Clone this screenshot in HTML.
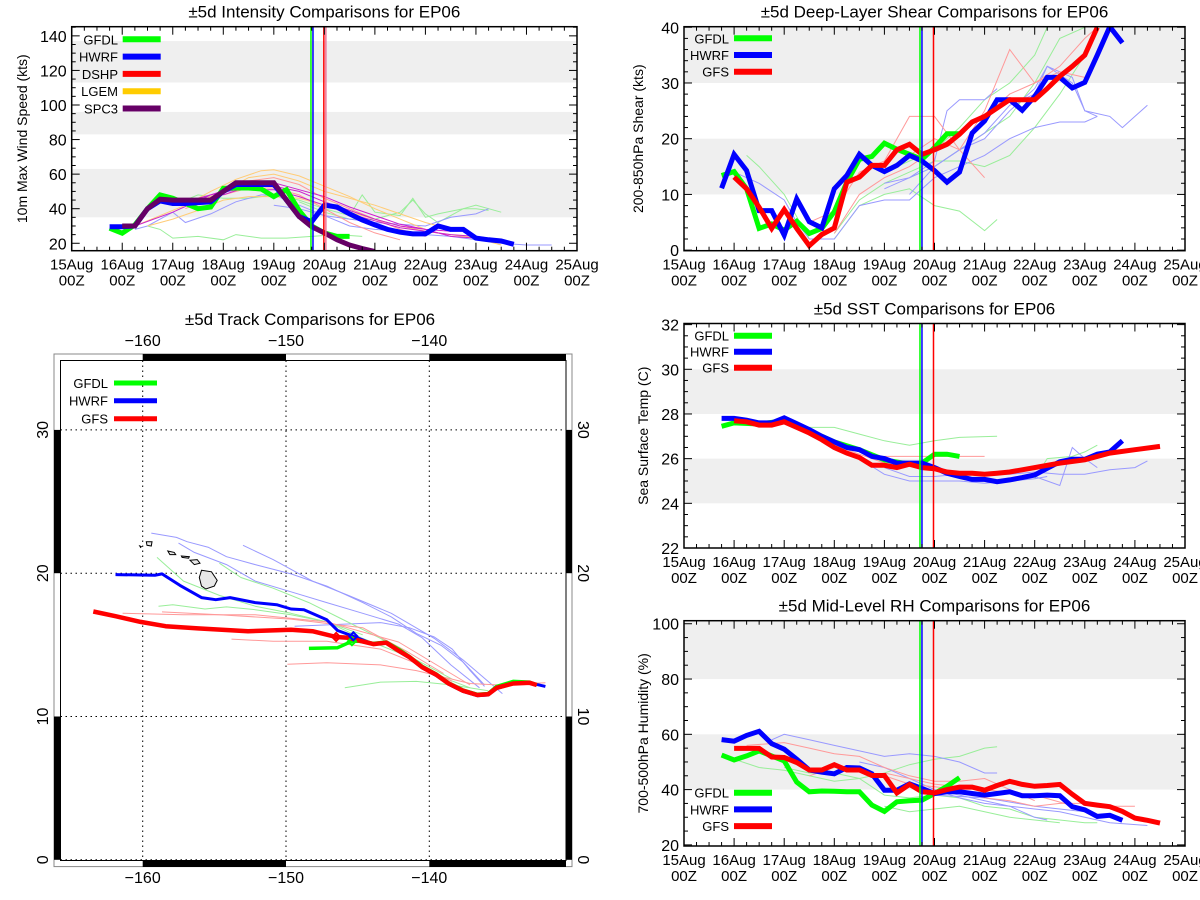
<!DOCTYPE html>
<html><head><meta charset="utf-8"><style>
body{margin:0;background:#fff;}
svg{display:block;font-family:"Liberation Sans",sans-serif;}
</style></head><body>
<svg id="s" width="1200" height="900" viewBox="0 0 1200 900" xmlns="http://www.w3.org/2000/svg"></svg>
<script>
// ---------- DATA ----------
const dayTickLabels = ["15Aug","16Aug","17Aug","18Aug","19Aug","20Aug","21Aug","22Aug","23Aug","24Aug","25Aug"];
// Intensity (day-of-Aug, kts)
const intGFDL = [[15.75,28.7],[16,25.8],[16.25,30.6],[16.5,40],[16.75,48],[17,46],[17.25,43],[17.5,40],[17.75,41],[18,51.8],[18.25,52],[18.5,52],[18.75,51.4],[19,47],[19.25,51],[19.5,39],[19.75,30],[20,26],[20.25,24],[20.5,24]];
const intHWRF = [[15.75,29.6],[16,29.6],[16.25,30],[16.5,40],[16.75,44.5],[17,43],[17.25,43],[17.75,44],[18,50],[18.25,54],[19,54],[19.25,45],[19.5,35.5],[19.75,32.5],[20,42],[20.25,41],[20.5,37],[20.75,33.5],[21,30.6],[21.25,28],[21.5,26.4],[21.75,25.4],[22,25.4],[22.25,30],[22.5,28],[22.75,28],[23,23],[23.25,22],[23.5,21.3],[23.75,19.4]];
const intSPC3 = [[16,30],[16.25,30],[16.5,40],[16.75,45.5],[17,45],[17.25,45],[17.75,45],[18,50],[18.25,55],[19,55],[19.25,45],[19.5,35.5],[19.75,29.6],[20,26],[20.25,22],[20.5,19],[20.75,17],[21,15.2]];
const intThinOrange = [
 [[16.25,30],[16.75,36],[17.25,42],[17.75,50],[18.25,57],[18.75,62],[19,62.5],[19.5,59],[20,53],[20.5,47],[21,40],[21.5,34],[22,28]],
 [[16.5,30],[17,34],[17.5,39],[18,45],[18.5,47],[19,47],[19.5,46],[20,42],[20.5,38],[21,34],[21.5,30],[22,27],[22.5,25],[23,23],[23.5,19]],
 [[17.5,44],[18,50],[18.5,58],[19,60],[19.5,56],[20,50],[21,42],[22,32],[22.5,28]]];
const intThinRed = [
 [[17.25,40],[18,50],[18.5,56],[19,58],[19.5,54],[20,46],[20.5,40],[21,34],[21.5,28],[22,24]],
 [[18,48],[18.5,52],[19,52],[19.5,48],[20,40],[20.5,32],[21,26],[21.5,22]]];
const intThinMagenta = [
 [[16.25,30],[17,38],[17.75,48],[18.5,55],[19,55],[19.5,51],[20,47],[20.5,41],[21,36],[21.5,31],[22,28],[22.5,24],[23,23]],
 [[17,42],[17.75,48],[18.25,51],[19,51],[19.5,47],[20,42],[20.5,37],[21,33],[21.5,29],[22,27],[22.5,25],[23,24],[23.5,22]],
 [[18,48],[18.5,53],[19,53],[19.5,50],[20,44],[20.5,39],[21,34],[21.5,30],[22,28],[22.5,27]]];
const intThinGreen = [
 [[16.5,30],[16.75,28],[17,23],[17.5,24],[18,22],[18.25,25],[18.75,23],[19.25,23],[19.75,24],[20.25,25],[20.75,24]],
 [[17,42],[17.5,48],[18,46],[18.5,46],[19,48],[19.5,45],[20,40],[20.5,36],[20.75,48],[21,38],[21.5,36],[21.75,46],[22,35],[22.25,37],[22.75,40],[23,40],[23.25,39]],
 [[19.5,44],[20,38],[20.5,34],[21,34],[21.5,38],[21.75,45],[22,37],[22.25,32],[22.75,40],[23,42],[23.5,38]]];
const intThinBlue = [
 [[16.25,28],[16.5,30],[17,38],[17.25,32],[17.75,37],[18.25,44],[18.75,48],[19,48],[19.5,42],[20,36],[20.5,30],[21,28],[21.5,27],[22,25],[22.5,24],[23,22],[23.5,20],[24,19],[24.5,19]],
 [[19,42],[19.5,40],[20,36],[20.5,34],[21,32],[22,30],[22.5,35],[23,37],[23.25,40]]];
// Shear
const shrGFDL = [[15.75,13.4],[16,14.1],[16.25,11],[16.5,3.9],[16.75,4.7],[17,3.6],[17.25,5.2],[17.5,3],[17.75,3.9],[18,6.9],[18.25,12.2],[18.5,16.3],[18.75,16.8],[19,19.2],[19.25,18.1],[19.5,17.2],[19.75,16.3],[20,18.4],[20.25,20.9],[20.5,20.9]];
const shrHWRF = [[15.75,11.1],[16,17.2],[16.25,14.3],[16.5,7.1],[16.75,7.1],[17,2.7],[17.25,9.2],[17.5,5.1],[17.75,4],[18,11],[18.25,13.4],[18.5,17.2],[18.75,15.2],[19,14.1],[19.25,15.2],[19.5,17],[19.75,16],[20,14.3],[20.25,12.2],[20.5,14],[20.75,21],[21,23.2],[21.25,27],[21.5,27],[21.75,25.1],[22,27.6],[22.25,31],[22.5,31],[22.75,29.1],[23,30.1],[23.25,35],[23.5,40.1],[23.75,37.2]];
const shrGFS = [[16,13.1],[16.25,11],[16.5,7.7],[16.75,3.9],[17,7.3],[17.25,3.9],[17.5,0.8],[17.75,2.8],[18,4],[18.25,12.2],[18.5,13.1],[18.75,15.2],[19,15.2],[19.25,18],[19.5,19],[19.75,17.2],[20,18],[20.25,19],[20.5,20.8],[20.75,23],[21,24],[21.25,25.5],[21.5,27],[22,27],[22.25,29],[22.5,31.2],[22.75,33],[23,35],[23.25,40]];
const shrThinGreen = [
 [[16.25,17],[16.5,15],[17,10],[17.5,2],[18,2],[18.5,8],[19,10],[19.5,11],[20,8],[20.5,7],[21,3.5],[21.25,5.5]],
 [[19.5,13],[20,15],[20.5,18],[21,21],[21.5,24],[22,30],[22.5,38],[23,40]],
 [[18,3],[18.5,9],[19,12],[19.5,14],[20,16],[20.5,16],[21,15],[21.5,17],[22,22],[22.5,28],[23,35],[23.25,40]],
 [[19,14],[19.5,16],[20,18],[20.5,22],[21,27],[21.5,30],[22,35],[22.25,40]]];
const shrThinRed = [
 [[17.5,5],[18,7],[18.5,14],[19,16],[19.5,24],[20,24],[20.5,18],[21,13]],
 [[19.5,17],[20,20],[20.5,18],[21,25],[21.5,36],[22,30],[22.5,32],[23,31]],
 [[18,3],[18.5,10],[19,13],[19.5,15],[20,18],[20.5,21],[21,24],[21.5,28],[22,30],[22.5,33],[23,38],[23.25,40]]];
const shrThinBlue = [
 [[16,14],[16.5,12],[17,9],[17.25,5],[17.5,2],[18,2],[18.5,8],[19,9],[19.5,9],[20,13],[20.5,15],[21,17],[21.5,20],[22,22],[22.5,23],[23,23],[23.25,24]],
 [[19.5,10],[20,15],[20.5,18],[21,20],[21.5,25],[22,29],[22.25,33],[22.75,30],[23,25],[23.5,24],[23.75,22],[24,24],[24.25,26]],
 [[19,11],[19.5,13],[20,16],[20.25,25],[20.5,27],[21,27],[21.25,29]],
 [[19,12],[19.5,13],[20,15],[20.5,18],[21,21],[21.5,26],[22,28],[22.25,33],[22.75,31],[23,25],[23.25,24]]];
// SST
const sstGFDL = [[15.75,27.45],[16,27.6],[16.5,27.55],[17,27.7],[17.5,27.25],[18,26.75],[18.5,26.4],[19,25.95],[19.5,25.75],[19.75,25.8],[20,26.2],[20.25,26.2],[20.5,26.1]];
const sstHWRF = [[15.75,27.8],[16,27.8],[16.25,27.72],[16.5,27.6],[16.75,27.6],[17,27.83],[17.25,27.57],[17.5,27.3],[17.75,27],[18,26.75],[18.25,26.5],[18.5,26.4],[18.75,26.1],[19,26],[19.25,25.8],[19.5,25.8],[19.75,25.8],[20,25.6],[20.25,25.35],[20.5,25.2],[20.75,25.07],[21,25.07],[21.25,24.97],[21.5,25.05],[21.75,25.15],[22,25.27],[22.25,25.57],[22.5,25.86],[22.75,25.97],[23,25.97],[23.25,26.2],[23.5,26.3],[23.75,26.8]];
const sstGFS = [[16,27.7],[16.25,27.65],[16.5,27.5],[16.75,27.5],[17,27.65],[17.25,27.4],[17.5,27.15],[17.75,26.85],[18,26.5],[18.25,26.25],[18.5,26.05],[18.75,25.7],[19,25.7],[19.25,25.6],[19.5,25.75],[19.75,25.6],[20,25.55],[20.25,25.4],[20.5,25.35],[20.75,25.35],[21,25.3],[21.25,25.35],[21.5,25.4],[21.75,25.5],[22,25.6],[22.25,25.7],[22.5,25.8],[23,25.95],[23.5,26.25],[24,26.4],[24.5,26.55]];
const sstThinGreen = [
 [[17.25,27.4],[18,27.4],[18.5,27.1],[19,26.8],[19.5,26.6],[20,26.8],[20.5,26.95],[21.25,27]],
 [[22,25.1],[22.25,26],[22.75,26.1],[23,26.3],[23.25,26.6]]];
const sstThinRed = [[[19,26.1],[20,26.1],[21,26.1]],[[17,27.6],[18,26.6],[19,25.8],[20,25.5],[21,25.3],[22,25.5],[23,26]]];
const sstThinBlue = [
 [[18.5,26],[19,25.3],[19.5,25],[20,25],[20.5,25],[21,24.9],[21.5,25],[22,25.1],[22.25,25.2]],
 [[19,25.6],[19.5,25.2],[20,25.2],[20.5,25.3],[21,25.3],[21.5,25.3],[22,25.4],[22.5,25.3],[23,25.3],[23.5,25.5],[24,25.6],[24.25,25.9]],
 [[22,25.2],[22.5,24.8],[22.75,26.5],[23,26],[23.25,25.6]]];
// RH
const rhGFDL = [[15.75,52.5],[16,50.7],[16.25,52.2],[16.5,54],[16.75,52.2],[17,50.4],[17.25,42.7],[17.5,39.2],[17.75,39.5],[18,39.4],[18.25,39.2],[18.5,39.2],[18.75,34.4],[19,32.1],[19.25,35.6],[19.5,36],[19.75,36.2],[20,38.6],[20.25,41.2],[20.5,44.3]];
const rhHWRF = [[15.75,58.1],[16,57.5],[16.25,59.6],[16.5,61.1],[16.75,56.6],[17,54.6],[17.25,51],[17.5,47.1],[17.75,46.3],[18,45.7],[18.25,48],[18.5,47.8],[18.75,45.7],[19,39.8],[19.25,39.8],[19.5,42.1],[19.75,40.4],[20,38.6],[20.25,39.2],[20.5,39.2],[20.75,38.6],[21,38],[21.25,38.6],[21.5,39.2],[21.75,37.8],[22,37.8],[22.25,38],[22.5,37.8],[22.75,33.8],[23,32.7],[23.25,30.3],[23.5,30.7],[23.75,28.9]];
const rhGFS = [[16,54.9],[16.5,54.9],[16.75,51.8],[17,51.6],[17.25,49.8],[17.5,47.1],[17.75,47.1],[18,49],[18.25,47.1],[18.5,47.1],[18.75,45.1],[19,45.1],[19.25,38.8],[19.5,41.9],[19.75,39.2],[20,38.8],[20.25,40],[20.5,40.9],[20.75,40.9],[21,39.8],[21.25,41.5],[21.5,43],[21.75,41.9],[22,41.2],[22.25,41.5],[22.5,41.9],[22.75,38.3],[23,35],[23.25,34.4],[23.5,33.8],[23.75,32.1],[24,29.7],[24.25,28.9],[24.5,27.9]];
const rhThinGreen = [
 [[16,51],[16.5,48],[17,47],[17.5,45],[18,43],[18.5,44],[19,46],[19.5,49],[20,51],[20.5,52],[21,55],[21.25,55.5]],
 [[17,48],[17.5,46],[18,46],[18.5,44],[19,38],[19.5,37],[20,38],[20.5,37],[21,34],[21.5,33],[22,30],[22.5,29],[23,28],[23.25,28]],
 [[19,34],[19.5,32],[20,33],[20.5,34],[21,32],[21.5,30],[22,29],[22.5,28]]];
const rhThinRed = [
 [[16.25,56],[17,57],[17.5,55],[18,53],[18.5,52],[19,48],[19.5,45],[20,43],[20.5,43],[21,44],[21.5,40],[22,36]],
 [[17.5,45],[18,48],[18.5,47],[19,45],[19.5,42],[20,41],[20.5,40],[21,37],[21.5,36],[22,34],[22.5,35],[23,35],[23.5,34],[24,34]],
 [[19,46],[19.5,44],[20,42],[21,40],[22,38],[23,33]]];
const rhThinBlue = [
 [[16.75,58],[17,60],[17.5,58],[18,56],[18.5,54],[19,52],[19.5,53],[20,52],[20.5,50],[21,46],[21.25,46]],
 [[18.5,50],[19,48],[19.5,44],[20,40],[20.5,38],[21,36],[21.5,34],[22,30],[22.25,29]],
 [[20,40],[20.5,37],[21,35],[21.5,34],[22,33],[22.5,32],[23,30],[23.5,28],[24.25,27]],
 [[20,38],[21,37],[22,34],[23,32],[23.25,31]]];
// Track (lon, lat)
const trkGFS = [[-163.45,17.33],[-161.9,17],[-160.15,16.6],[-158.4,16.3],[-156.15,16.15],[-152.65,15.95],[-149.65,16.05],[-148.15,15.95],[-146.5,15.55],[-145.65,15.5],[-144.9,15.3],[-143.9,15.05],[-143,15.15],[-142.15,14.6],[-141.4,14.15],[-140.5,13.45],[-139.5,12.9],[-138.65,12.3],[-137.65,11.8],[-136.65,11.5],[-135.9,11.55],[-135.3,12],[-134.15,12.3],[-133,12.35],[-132.5,12.2]];
const trkHWRF = [[-161.9,19.9],[-159.15,19.85],[-158.65,19.95],[-157.4,19.15],[-155.9,18.3],[-154.9,18.15],[-153.9,18.3],[-152.15,17.95],[-150.65,17.8],[-149.65,17.5],[-148.75,17.45],[-147.15,16.75],[-146.4,16],[-145.3,15.6],[-143.9,15.05],[-143,15.1],[-142.15,14.55],[-141.4,14.1],[-140.5,13.4],[-139.5,12.85],[-138.65,12.25],[-137.65,11.75],[-136.65,11.45],[-135.9,11.5],[-135.3,11.95],[-134.15,12.3],[-133,12.35],[-131.9,12.1]];
const trkGFDL = [[-148.4,14.75],[-146.4,14.8],[-145.4,15.25],[-144.9,15.25],[-143.9,15.1],[-143,15.2],[-142.15,14.7],[-141.4,14.2],[-140.5,13.5],[-139.5,12.95],[-138.65,12.35],[-137.65,11.85],[-136.65,11.55],[-135.9,11.6],[-135.3,12.1],[-134.15,12.45],[-133,12.4],[-132.5,12.2]];
const trkThinBlue = [
 [[-159.4,22.8],[-157.65,22.5],[-156.9,22.2],[-155.4,21.8],[-154.15,21.15],[-152.15,20.6],[-149.65,19.95],[-147.15,19.1],[-144.65,17.95],[-142.65,16.95],[-140.9,15.8],[-139.15,14.95],[-137.65,13.8],[-136.15,12.2]],
 [[-153,21.95],[-150.9,20.95],[-148.15,19.45],[-145.65,18.45],[-142.65,17.2],[-139.65,15.45],[-137.65,13.95],[-134.9,11.6]],
 [[-157.5,22.1],[-156.4,21.45],[-154.15,20.6],[-152.15,19.45],[-149.65,18.7],[-147.15,17.95],[-144.65,17.2],[-142.15,16.45],[-140.5,15.5],[-138.5,13.6],[-136.5,12]],
 [[-149.4,16.3],[-145.9,16.45],[-143.4,16.55],[-141.4,16.2],[-139.65,15.55],[-138.4,14.7],[-137.15,13.2],[-136.15,12.1]]];
const trkThinGreen = [
 [[-159,21.1],[-157.15,19.45],[-154.65,18.45],[-152.15,17.7],[-149.65,17.2],[-147.15,16.6],[-144.65,15.45],[-142.15,14.45],[-139.65,12.95],[-137.15,12]],
 [[-158.9,17.7],[-157.9,17.8],[-155.65,17.5],[-154.15,17.65],[-152.15,17.45],[-149.65,17.1],[-147.15,16.6],[-144.65,15.7]],
 [[-154.65,20.7],[-153.15,19.7],[-150.9,18.95],[-148.4,17.95],[-145.9,16.7],[-143.4,15.45],[-140.9,13.95],[-138.4,12.6]],
 [[-145.9,12],[-143.4,12.4],[-140.9,12.45],[-138.4,12.2],[-135.9,11.8]]];
const trkThinRed = [
 [[-161.4,17.2],[-157.15,17.1],[-152.15,17.1],[-147.15,16.6],[-142.15,15.2],[-139.65,13.7],[-137.15,12.2]],
 [[-153.8,15.4],[-150.9,15.25],[-147.15,15.25],[-143.4,14.7],[-140.9,13.7],[-138.4,12.45]],
 [[-149.9,13.65],[-147.15,13.75],[-143.4,13.6],[-140.9,13.2],[-137.15,12.3],[-135.15,12.2],[-131.9,12.35]],
 [[-158.65,17.3],[-154.65,17.1],[-149.65,16.8],[-144.65,16.2],[-141.5,14.5],[-139,13]]];
const islands = [
 [[-155.9,20.2],[-155.2,20.1],[-154.8,19.5],[-155.0,19.1],[-155.6,18.9],[-155.9,19.1],[-156.05,19.7]],
 [[-156.7,20.9],[-156.2,20.95],[-156.0,20.7],[-156.4,20.6],[-156.6,20.8]],
 [[-157.3,21.2],[-156.75,21.15],[-156.8,21.05],[-157.25,21.1]],
 [[-158.25,21.55],[-157.8,21.45],[-157.7,21.3],[-158.1,21.3]],
 [[-159.75,22.2],[-159.35,22.2],[-159.4,21.9],[-159.7,21.95]],
 [[-160.2,21.9],[-160.1,21.85],[-160.15,21.8]]];
const lonTicks = [-160,-150,-140];
const latTicks = [0,10,20,30];

// ---------- DRAWING ----------
const svg = document.getElementById('s');
const NS = "http://www.w3.org/2000/svg";
function mk(tag, attrs, parent){ const e=document.createElementNS(NS,tag); for(const k in attrs) e.setAttribute(k,attrs[k]); (parent||svg).appendChild(e); return e; }
function txt(x,y,s,size,anchor,parent,rot){ const t=mk('text',{x:x,y:y,'font-size':size,'text-anchor':anchor||'middle',fill:'#000'},parent); if(rot) t.setAttribute('transform',`rotate(${rot} ${x} ${y})`); t.textContent=s; return t; }

function panel(cfg){
  const g = mk('g',{});
  
  
  const X = d => cfg.x0 + (d-15)/10*(cfg.x1-cfg.x0);
  const Y = v => cfg.y1 - (v-cfg.vmin)/(cfg.vmax-cfg.vmin)*(cfg.y1-cfg.y0);
  for(const b of cfg.bands){
    const r = mk('rect',{x:cfg.x0,y:Y(b[1]),width:cfg.x1-cfg.x0,height:Y(b[0])-Y(b[1]),fill:'#efefef'},g);
    
    
  }
  const clip = 'c'+cfg.name;
  const cp = mk('clipPath',{id:clip},g); mk('rect',{x:cfg.x0,y:cfg.y0,width:cfg.x1-cfg.x0,height:cfg.y1-cfg.y0},cp);
  const lg = mk('g',{'clip-path':`url(#${clip})`},g);
  function line(pts,color,w,nm){
    const p = mk('polyline',{points:pts.map(q=>X(q[0]).toFixed(1)+','+Y(q[1]).toFixed(1)).join(' '),fill:'none',stroke:color,'stroke-width':w,'stroke-linejoin':'miter'},lg);
    
    
  }
  for(const s of cfg.thin) for(const pts of s.data) line(pts,s.color,1,s.name);
  for(const s of cfg.thick) line(s.data,s.color,5,s.name);
  for(const v of cfg.vlines){
    const l = mk('line',{x1:X(v[0]),x2:X(v[0]),y1:cfg.y0,y2:cfg.y1,stroke:v[1],'stroke-width':1.5},g);
    
    
  }
  mk('rect',{x:cfg.x0,y:cfg.y0,width:cfg.x1-cfg.x0,height:cfg.y1-cfg.y0,fill:'none',stroke:'#000','stroke-width':1.5},g);
  for(let i=0;i<=40;i++){
    const d=15+i*0.25, x=X(d), L = (i%4===0)?8:4;
    mk('line',{x1:x,x2:x,y1:cfg.y1,y2:cfg.y1-L,stroke:'#000','stroke-width':1},g);
    mk('line',{x1:x,x2:x,y1:cfg.y0,y2:cfg.y0+L,stroke:'#000','stroke-width':1},g);
  }
  dayTickLabels.forEach((s,i)=>{
    const a = txt(X(15+i),cfg.y1+19,s,15,'middle',g);
    
    
    const b = txt(X(15+i),cfg.y1+35,'00Z',15,'middle',g);
    
    
  });
  for(let v=cfg.ymajor0; v<=cfg.vmax+1e-6; v+=cfg.yminor){
    if(v<cfg.vmin-1e-6) continue;
    const y=Y(v); const isMaj = Math.abs(((v-cfg.ymajor0)/cfg.ymajor)-Math.round((v-cfg.ymajor0)/cfg.ymajor))<1e-6;
    const L=isMaj?8:4;
    mk('line',{x1:cfg.x0,x2:cfg.x0+L,y1:y,y2:y,stroke:'#000','stroke-width':1},g);
    mk('line',{x1:cfg.x1,x2:cfg.x1-L,y1:y,y2:y,stroke:'#000','stroke-width':1},g);
    if(isMaj){
      const t=txt(cfg.x0-5,y+6,String(Math.round(v)),16,'end',g);
      
      
    }
  }
  const tt = txt((cfg.x0+cfg.x1)/2, cfg.y0-9, cfg.title, 17,'middle',g);
  
  
  const yt = txt(cfg.ytx,(cfg.y0+cfg.y1)/2,cfg.ytitle,14,'middle',g,-90);
  
  
  cfg.legend.forEach((e,i)=>{
    const y = cfg.ly + i*cfg.lstep;
    const t = txt(cfg.ltx,y+5,e[0],13,'end',g);
    
    
    const l = mk('line',{x1:cfg.llx,x2:cfg.llx+38,y1:y,y2:y,stroke:e[1],'stroke-width':6},g);
    
    
  });
}

const G='#00ff00', B='#0000ff', R='#ff0000', O='#ffcc00', P='#660066';
const lG='#99ee99', lB='#9999ff', lR='#ff9999', lO='#ffcc77', lM='#cc22cc';

panel({name:'intensity-panel',x0:71.7,x1:577,y0:26.7,y1:250.7,vmin:15.7,vmax:145.3,bands:[[35,63],[83,96],[113,137]],
  ymajor0:20,ymajor:20,yminor:5,title:'±5d Intensity Comparisons for EP06',ytitle:'10m Max Wind Speed (kts)',ytx:27,
  thin:[{data:intThinGreen,color:lG,name:'gfdl-run'},{data:intThinBlue,color:lB,name:'hwrf-run'},{data:intThinOrange,color:lO,name:'lgem-run'},{data:intThinRed,color:lR,name:'dshp-run'},{data:intThinMagenta,color:lM,name:'spc3-run'}],
  thick:[{data:intGFDL,color:G,name:'gfdl-line'},{data:intHWRF,color:B,name:'hwrf-line'},{data:intSPC3,color:P,name:'spc3-line'}],
  vlines:[[19.735,G],[19.775,B],[19.99,R],[20.03,'#ee7799']],
  legend:[['GFDL',G],['HWRF',B],['DSHP',R],['LGEM',O],['SPC3',P]],ly:39.3,lstep:17.3,ltx:118,llx:122.7});

const rx0=684, rx1=1185;
panel({name:'shear-panel',x0:rx0,x1:rx1,y0:26.7,y1:250.7,vmin:-0.1,vmax:40.1,bands:[[10,20],[30,40.1]],
  ymajor0:0,ymajor:10,yminor:2,title:'±5d Deep-Layer Shear Comparisons for EP06',ytitle:'200-850hPa Shear (kts)',ytx:643,
  thin:[{data:shrThinGreen,color:lG,name:'gfdl-run'},{data:shrThinBlue,color:lB,name:'hwrf-run'},{data:shrThinRed,color:lR,name:'gfs-run'}],
  thick:[{data:shrGFDL,color:G,name:'gfdl-line'},{data:shrHWRF,color:B,name:'hwrf-line'},{data:shrGFS,color:R,name:'gfs-line'}],
  vlines:[[19.71,G],[19.75,B],[19.98,R]],
  legend:[['GFDL',G],['HWRF',B],['GFS',R]],ly:38.3,lstep:16.7,ltx:729,llx:734});

panel({name:'sst-panel',x0:rx0,x1:rx1,y0:323.5,y1:548,vmin:22,vmax:32.05,bands:[[24,26],[28,30]],
  ymajor0:22,ymajor:2,yminor:0.5,title:'±5d SST Comparisons for EP06',ytitle:'Sea Surface Temp (C)',ytx:648,
  thin:[{data:sstThinGreen,color:lG,name:'gfdl-run'},{data:sstThinBlue,color:lB,name:'hwrf-run'},{data:sstThinRed,color:lR,name:'gfs-run'}],
  thick:[{data:sstGFDL,color:G,name:'gfdl-line'},{data:sstHWRF,color:B,name:'hwrf-line'},{data:sstGFS,color:R,name:'gfs-line'}],
  vlines:[[19.71,G],[19.75,B],[19.98,R]],
  legend:[['GFDL',G],['HWRF',B],['GFS',R]],ly:335.7,lstep:16,ltx:729,llx:734});

panel({name:'rh-panel',x0:rx0,x1:rx1,y0:620.7,y1:846,vmin:19.6,vmax:101.1,bands:[[40,60],[80,101.1]],
  ymajor0:20,ymajor:20,yminor:5,title:'±5d Mid-Level RH Comparisons for EP06',ytitle:'700-500hPa Humidity (%)',ytx:648,
  thin:[{data:rhThinGreen,color:lG,name:'gfdl-run'},{data:rhThinBlue,color:lB,name:'hwrf-run'},{data:rhThinRed,color:lR,name:'gfs-run'}],
  thick:[{data:rhGFDL,color:G,name:'gfdl-line'},{data:rhHWRF,color:B,name:'hwrf-line'},{data:rhGFS,color:R,name:'gfs-line'}],
  vlines:[[19.71,G],[19.75,B],[19.98,R]],
  legend:[['GFDL',G],['HWRF',B],['GFS',R]],ly:792.7,lstep:16.7,ltx:729,llx:734});

// ---------- MAP ----------
(function(){
  const g = mk('g',{});
  
  
  const LX = lon => 142.7 + (lon+160)*14.33;
  const LY = lat => 859.8 - lat*14.33;
  const ix0=60.5, ix1=566, iy0=360.5, iy1=860.5;
  const ttl = txt(310,325,'±5d Track Comparisons for EP06',17,'middle',g);
  
  
  mk('rect',{x:54,y:354,width:518,height:512.6,fill:'none',stroke:'#888','stroke-width':1},g);
  mk('rect',{x:ix0,y:iy0,width:ix1-ix0,height:iy1-iy0,fill:'#fff',stroke:'#000','stroke-width':1},g);
  const lonB=[[-160,-150],[-140,-130.46]];
  for(const s of lonB){ const a=LX(s[0]), b=Math.min(LX(s[1]),ix1);
    mk('rect',{x:a,y:354,width:b-a,height:6.5,fill:'#000'},g);
    mk('rect',{x:a,y:iy1,width:b-a,height:6.5,fill:'#000'},g); }
  const latB=[[0,10],[20,30]];
  for(const s of latB){ const a=LY(s[1]), b=LY(s[0]);
    mk('rect',{x:54,y:a,width:6.5,height:b-a,fill:'#000'},g);
    mk('rect',{x:ix1,y:a,width:6,height:b-a,fill:'#000'},g); }
  for(const lon of lonTicks){ const x=LX(lon);
    const l=mk('line',{x1:x,x2:x,y1:iy0,y2:iy1,stroke:'#000','stroke-width':1,'stroke-dasharray':'1.5,3.5'},g);
    
    
    const s='\u2212'+Math.abs(lon);
    const a=txt(x,346,s,16,'middle',g);
    
    
    const b=txt(x,883,s,16,'middle',g);
    
     }
  for(const lat of latTicks){ const y=LY(lat);
    const l=mk('line',{x1:ix0,x2:ix1,y1:y,y2:y,stroke:'#000','stroke-width':1,'stroke-dasharray':'1.5,3.5'},g);
    
    
    const a=txt(48,y,String(lat),16,'middle',g,-90);
    
    
    const b=txt(578,y,String(lat),16,'middle',g,90);
    
     }
  for(const isl of islands){
    const p=mk('polygon',{points:isl.map(q=>LX(q[0]).toFixed(1)+','+LY(q[1]).toFixed(1)).join(' '),fill:'#e8e8e8',stroke:'#000','stroke-width':1},g);
    
    
  }
  function tl(pts,color,w,nm){
    const p=mk('polyline',{points:pts.map(q=>LX(q[0]).toFixed(1)+','+LY(q[1]).toFixed(1)).join(' '),fill:'none',stroke:color,'stroke-width':w,'stroke-linejoin':'round'},g);
    
    
  }
  for(const t of trkThinBlue) tl(t,lB,1,'hwrf-track-run');
  for(const t of trkThinGreen) tl(t,lG,1,'gfdl-track-run');
  for(const t of trkThinRed) tl(t,lR,1,'gfs-track-run');
  tl(trkHWRF,B,3,'hwrf-track');
  tl(trkGFDL,G,3.5,'gfdl-track');
  tl(trkGFS,R,4.5,'gfs-track');
  function dia(pt,color,nm){ const x=LX(pt[0]), y=LY(pt[1]);
    const d=mk('polygon',{points:`${x},${y-4} ${x+4},${y} ${x},${y+4} ${x-4},${y}`,fill:'none',stroke:color,'stroke-width':2},g);
    
     }
  dia(trkGFS[8],R,'gfs-init-marker'); dia(trkGFDL[2],G,'gfdl-init-marker'); dia(trkHWRF[13],B,'hwrf-init-marker');
  [['GFDL',G,383],['HWRF',B,400.7],['GFS',R,418.7]].forEach(e=>{
    const t=txt(108,e[2]+5,e[0],13,'end',g);
    
    
    const l=mk('line',{x1:114,x2:157,y1:e[2],y2:e[2],stroke:e[1],'stroke-width':5},g);
    
    
  });
})();
</script>
</body></html>
